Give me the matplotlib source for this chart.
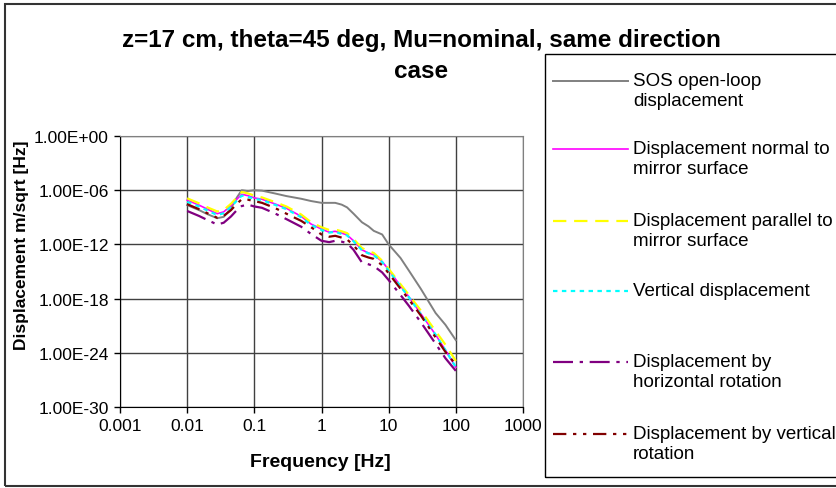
import numpy as np
import matplotlib
matplotlib.use("Agg")
import matplotlib.pyplot as plt
from matplotlib.lines import Line2D
from matplotlib.patches import Rectangle
from matplotlib.ticker import NullLocator

# frequencies [Hz] and read-off displacement levels, as decades (log10 of m/sqrt[Hz])
freq_hz = [0.01, 0.015, 0.02, 0.028, 0.035, 0.045, 0.055, 0.065, 0.08, 0.1, 0.13,
           0.2, 0.3, 0.5, 0.7, 1.0, 1.3, 1.6, 2.0, 2.4, 3.0, 4.0, 5.0, 6.0, 8.0,
           10, 15, 20, 30, 50, 70, 100]

sos_open_loop = [-7.65, -8.2, -8.65, -9.1, -8.95, -8.0, -6.8, -6.0, -6.1, -6.0, -6.05,
                 -6.35, -6.65, -6.95, -7.2, -7.4, -7.4, -7.4, -7.6, -7.9, -8.6, -9.55,
                 -10.0, -10.5, -10.9, -12.0, -13.5, -14.9, -16.9, -19.6, -20.9, -22.6]
normal_disp = [-7.1, -7.65, -8.1, -8.6, -8.4, -7.7, -7.0, -6.45, -6.6, -6.85, -7.0,
               -7.5, -8.0, -8.9, -9.75, -10.3, -10.65, -10.55, -10.75, -10.95, -11.6, -12.6,
               -12.95, -13.15, -13.9, -14.8, -16.6, -17.8, -19.65, -22.0, -23.7, -25.6]
parallel_disp = [-6.9, -7.45, -7.9, -8.35, -8.2, -7.5, -6.8, -6.2, -6.35, -6.6, -6.8,
                 -7.3, -7.8, -8.7, -9.55, -10.1, -10.4, -10.35, -10.55, -10.75, -11.4, -12.4,
                 -12.75, -12.95, -13.8, -14.7, -16.4, -17.6, -19.3, -21.6, -23.1, -24.9]
vertical_disp = [-7.3, -7.8, -8.25, -8.75, -8.55, -7.85, -7.15, -6.6, -6.75, -6.95, -7.1,
                 -7.6, -8.1, -9.0, -9.85, -10.4, -10.7, -10.6, -10.85, -11.0, -11.65, -12.65,
                 -13.0, -13.2, -13.95, -14.9, -16.65, -17.85, -19.7, -22.0, -23.7, -25.6]
horiz_rot_disp = [-8.3, -8.85, -9.3, -9.8, -9.6, -8.9, -8.2, -7.75, -7.6, -7.8, -7.95,
                  -8.55, -9.2, -10.05, -10.85, -11.6, -11.75, -11.6, -11.7, -11.85, -12.6, -14.0,
                  -14.2, -14.4, -15.1, -15.95, -17.6, -18.8, -20.6, -23.0, -24.6, -26.0]
vert_rot_disp = [-7.55, -8.1, -8.55, -9.05, -8.85, -8.2, -7.5, -7.0, -7.05, -7.2, -7.4,
                 -7.95, -8.6, -9.4, -10.1, -10.9, -11.15, -11.05, -11.25, -11.45, -12.1, -13.2,
                 -13.45, -13.6, -14.3, -15.2, -16.9, -18.1, -19.85, -22.3, -23.9, -25.3]

labels = ["SOS open-loop\ndisplacement",
          "Displacement normal to\nmirror surface",
          "Displacement parallel to\nmirror surface",
          "Vertical displacement",
          "Displacement by\nhorizontal rotation",
          "Displacement by vertical\nrotation"]

title_lines = ["z=17 cm, theta=45 deg, Mu=nominal, same direction", "case"]

x_ticks = [0.001, 0.01, 0.1, 1, 10, 100, 1000]
x_tick_labels = ["0.001", "0.01", "0.1", "1", "10", "100", "1000"]
y_ticks = [1e0, 1e-6, 1e-12, 1e-18, 1e-24, 1e-30]
y_tick_labels = ["1.00E+00", "1.00E-06", "1.00E-12", "1.00E-18", "1.00E-24", "1.00E-30"]

series = [sos_open_loop, normal_disp, parallel_disp, vertical_disp, horiz_rot_disp, vert_rot_disp]
styles = [
    dict(color="#808080", lw=1.4, ls="-"),
    dict(color="#FF00FF", lw=1.2, ls="-"),
    dict(color="#FFFF00", lw=1.6, ls=(0, (6, 3.5))),
    dict(color="#00FFFF", lw=1.6, ls=(0, (2, 2))),
    dict(color="#800080", lw=1.6, ls=(0, (9, 3, 1.5, 3))),
    dict(color="#800000", lw=1.6, ls=(0, (6, 3, 1.5, 3, 1.5, 3))),
]

plt.rcParams["font.family"] = ["Liberation Sans", "DejaVu Sans"]

W, H = 836, 489
fig = plt.figure(figsize=(W / 100, H / 100), dpi=100)


def fx(px):
    return px / W


def fy(py):
    return 1 - py / H


ax = fig.add_axes([fx(120), fy(408), 403 / W, 271 / H])

for vals, st in zip(series, styles):
    ax.plot(freq_hz, 10.0 ** np.array(vals), **st)

ax.set_xscale("log")
ax.set_yscale("log")
ax.set_xlim(1e-3, 1e3)
ax.set_ylim(1e-30, 1e0)
ax.set_xticks(x_ticks)
ax.set_xticklabels(x_tick_labels)
ax.set_yticks(y_ticks)
ax.set_yticklabels(y_tick_labels)
ax.xaxis.set_minor_locator(NullLocator())
ax.yaxis.set_minor_locator(NullLocator())
ax.tick_params(direction="out", length=4, width=1, labelsize=12.5, pad=4)
ax.grid(True, which="major", color="#404040", lw=1)
ax.set_axisbelow(True)
for side in ["top", "right"]:
    ax.spines[side].set_color("#808080")
for side in ["left", "bottom"]:
    ax.spines[side].set_color("black")

fig.text(fx(320), fy(463), "Frequency [Hz]", ha="center", va="center",
         fontsize=14, fontweight="bold")
fig.text(fx(22), fy(245), "Displacement m/sqrt [Hz]", ha="center", va="center",
         rotation=90, fontsize=12.5, fontweight="bold")
# title wraps onto a second line; each line placed on its own
fig.text(fx(421), fy(47), title_lines[0], ha="center", va="baseline",
         fontsize=17.5, fontweight="bold")
fig.text(fx(421), fy(78), title_lines[1], ha="center", va="baseline",
         fontsize=17.5, fontweight="bold")

# outer chart frame and legend box
fig.add_artist(Rectangle((fx(5), fy(487)), fx(840) - fx(5), (487 - 5) / H,
                         transform=fig.transFigure, fill=False, ec="#333333", lw=1.5))
fig.add_artist(Rectangle((fx(545), fy(478)), fx(300), (478 - 55) / H,
                         transform=fig.transFigure, fill=False, ec="black", lw=1))

entry_y = [82, 150, 222, 292, 363, 435]
for lab, st, yy in zip(labels, styles, entry_y):
    fig.add_artist(Line2D([fx(553), fx(628)], [fy(yy), fy(yy)], transform=fig.transFigure, **st))
    fig.text(fx(633), fy(yy - 9), lab, ha="left", va="top", fontsize=13.5, linespacing=1.2)

fig.savefig("out.png", dpi=100)
